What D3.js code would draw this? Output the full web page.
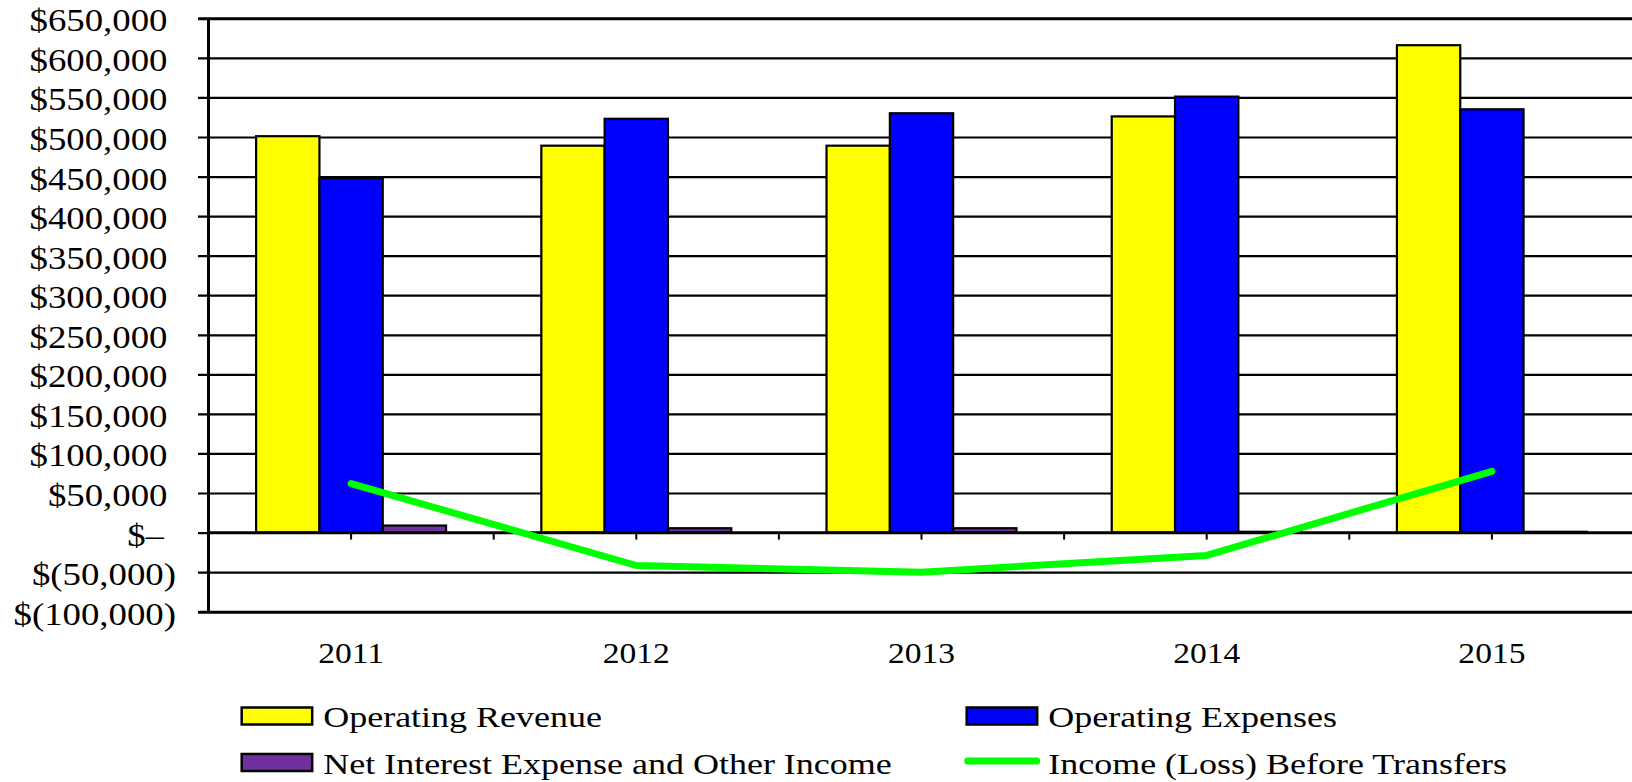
<!DOCTYPE html>
<html>
<head>
<meta charset="utf-8">
<script src="https://cdn.jsdelivr.net/npm/d3@7"></script>
<style>
  html, body { margin: 0; padding: 0; background: #ffffff; }
  svg { display: block; }
  text { font-family: "Liberation Serif", "Times New Roman", serif; fill: #000; }
</style>
</head>
<body>
<svg id="chart" width="1632" height="782"></svg>
<script>
// Five-year summary: revenue, expenses, net interest and income before transfers
const years = ["2011", "2012", "2013", "2014", "2015"];
const operatingRevenue = [501000, 489000, 489000, 526000, 616000];
const operatingExpenses = [448000, 523000, 530000, 551000, 535000];
const netInterestOther = [8900, 5500, 5500, 1000, 1000];
const incomeBeforeTransfers = [62000, -41600, -50000, -28900, 77400];

const yTickValues = [-100000, -50000, 0, 50000, 100000, 150000, 200000, 250000,
  300000, 350000, 400000, 450000, 500000, 550000, 600000, 650000];
const yTickLabels = ["$(100,000)", "$(50,000)", "$\u2013", "$50,000", "$100,000",
  "$150,000", "$200,000", "$250,000", "$300,000", "$350,000", "$400,000",
  "$450,000", "$500,000", "$550,000", "$600,000", "$650,000"];

const barSeries = [
  { name: "Operating Revenue", values: operatingRevenue, color: "#ffff00" },
  { name: "Operating Expenses", values: operatingExpenses, color: "#0000ff" },
  { name: "Net Interest Expense and Other Income", values: netInterestOther, color: "#7030a0" }
];
const lineSeries = { name: "Income (Loss) Before Transfers", values: incomeBeforeTransfers, color: "#00ff00" };

const svg = d3.select("#chart");

const plotLeft = 208.5, plotTop = 18.3, plotBottom = 611.7;
const step = 285.2;
const plotRight = plotLeft + step * years.length;

const x0 = d3.scaleBand().domain(years).range([plotLeft, plotRight])
  .paddingInner(0.334).paddingOuter(0.167);
const x1 = d3.scaleBand().domain(barSeries.map(s => s.name)).range([0, x0.bandwidth()]).padding(0);
const y = d3.scaleLinear().domain([-100000, 650000]).range([plotBottom, plotTop]);

// Horizontal gridlines with short outside ticks
const grid = svg.append("g").attr("transform", `translate(${plotLeft - 10.5},0)`)
  .call(d3.axisLeft(y).tickValues(yTickValues).tickFormat("").tickSizeInner(-(plotRight - plotLeft + 10.5)).tickSizeOuter(0));
grid.select(".domain").remove();
grid.selectAll(".tick line").attr("stroke", "#000").attr("stroke-width", 2.2);
grid.selectAll(".tick").filter(d => d === 650000 || d === -100000)
  .select("line").attr("stroke-width", 3);

// Value axis line
svg.append("line")
  .attr("x1", plotLeft).attr("x2", plotLeft)
  .attr("y1", y(650000)).attr("y2", y(-100000))
  .attr("stroke", "#000").attr("stroke-width", 3);

// Value axis labels (slightly wide serif)
const yLab = svg.append("g");
yTickValues.forEach((v, i) => {
  const lbl = yTickLabels[i];
  const neg = v < 0;
  const xEnd = neg ? 176 : (v === 0 ? 164 : 167.5);
  yLab.append("g")
    .attr("transform", `translate(${xEnd},${y(v) + 13}) scale(1.15,1)`)
    .append("text")
    .attr("text-anchor", "end")
    .attr("font-size", 32)
    .text(lbl);
});

// Bars
const groups = svg.append("g").selectAll("g")
  .data(years)
  .join("g")
  .attr("transform", d => `translate(${x0(d)},0)`);

groups.selectAll("rect")
  .data((d, i) => barSeries.map(s => ({ name: s.name, value: s.values[i], color: s.color })))
  .join("rect")
  .attr("x", d => x1(d.name))
  .attr("width", x1.bandwidth())
  .attr("y", d => y(Math.max(0, d.value)))
  .attr("height", d => Math.abs(y(d.value) - y(0)))
  .attr("fill", d => d.color)
  .attr("stroke", "#000")
  .attr("stroke-width", 2.2);

// Category axis along zero with tick marks at centers and boundaries
const xAxisG = svg.append("g");
xAxisG.append("line")
  .attr("x1", plotLeft).attr("x2", plotRight)
  .attr("y1", y(0)).attr("y2", y(0))
  .attr("stroke", "#000").attr("stroke-width", 2.5);
const tickXs = [];
years.forEach((yr, i) => {
  tickXs.push(x0(yr) + x0.bandwidth() / 2);
  if (i > 0) tickXs.push(plotLeft + step * i);
});
xAxisG.selectAll("line.tk")
  .data(tickXs)
  .join("line")
  .attr("class", "tk")
  .attr("x1", d => d).attr("x2", d => d)
  .attr("y1", y(0)).attr("y2", y(0) + 7)
  .attr("stroke", "#000").attr("stroke-width", 2);

// Category labels
svg.append("g").selectAll("g")
  .data(years)
  .join("g")
  .attr("transform", d => `translate(${x0(d) + x0.bandwidth() / 2},663) scale(1.1,1)`)
  .append("text")
  .attr("text-anchor", "middle")
  .attr("font-size", 30.5)
  .text(d => d);

// Income line through the centre of each category
const line = d3.line()
  .x((d, i) => x0(years[i]) + x0.bandwidth() / 2)
  .y(d => y(d));
svg.append("path")
  .datum(lineSeries.values)
  .attr("d", line)
  .attr("fill", "none")
  .attr("stroke", lineSeries.color)
  .attr("stroke-width", 7)
  .attr("stroke-linejoin", "round")
  .attr("stroke-linecap", "round");

// Legend
const legendItems = [
  { s: barSeries[0], x: 241.7, yTop: 707.5, type: "rect" },
  { s: barSeries[1], x: 966.7, yTop: 707.5, type: "rect" },
  { s: barSeries[2], x: 241.7, yTop: 754, type: "rect" },
  { s: lineSeries, x: 966.7, yTop: 754, type: "line" }
];
const leg = svg.append("g");
legendItems.forEach(it => {
  if (it.type === "rect") {
    leg.append("rect")
      .attr("x", it.x).attr("y", it.yTop)
      .attr("width", 70.5).attr("height", 17)
      .attr("fill", it.s.color)
      .attr("stroke", "#000").attr("stroke-width", 2.5);
  } else {
    leg.append("line")
      .attr("x1", it.x + 1).attr("x2", it.x + 70)
      .attr("y1", it.yTop + 7).attr("y2", it.yTop + 7)
      .attr("stroke", it.s.color).attr("stroke-width", 7)
      .attr("stroke-linecap", "round");
  }
  leg.append("g")
    .attr("transform", `translate(${it.x + 81.5},${it.yTop + 19.5}) scale(1.2,1)`)
    .append("text")
    .attr("font-size", 30)
    .text(it.s.name);
});
</script>
</body>
</html>
